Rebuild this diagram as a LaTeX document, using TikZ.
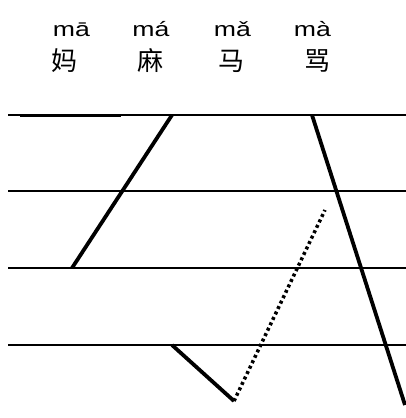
\documentclass[tikz,border=0pt]{standalone}
\usepackage{fontspec}
\setmainfont{Liberation Sans}
\newfontfamily\pinfont[FakeStretch=1.3]{Liberation Sans}
\newfontfamily\cjk{Noto Sans CJK SC}
\begin{document}
\begin{tikzpicture}[x=1pt,y=-1pt,
  staff/.style={line width=1.8pt},
  tone/.style={line width=3.8pt},
  pin/.style={font=\pinfont\fontsize{20.5}{20.5}\selectfont, inner sep=0pt, anchor=base},
  han/.style={font=\cjk\fontsize{26}{26}\selectfont, inner sep=0pt, anchor=base}]
\useasboundingbox (0,0) rectangle (406,418);
% staff lines
\foreach \n/\y in {a/115,b/191,c/268,d/345} {
  \coordinate (L\n) at (8,\y);
  \coordinate (R\n) at (406,\y);
  \draw[staff] (L\n) -- (R\n);
}
% texts
\node[pin] (p1) at (71.5,36) {mā};
\node[pin] (p2) at (151,36) {má};
\node[pin] (p3) at (232.5,36) {mǎ};
\node[pin] (p4) at (312.5,36) {mà};
\node[han] (h1) at (64.5,70) {妈};
\node[han] (h2) at (150,70) {麻};
\node[han] (h3) at (231,70) {马};
\node[han] (h4) at (317,70) {骂};
% tone 1
\coordinate (t1a) at (20,115);
\coordinate (t1b) at (121,115);
\draw[line width=3pt] (t1a) -- (t1b);
% tone 2
\coordinate (t2a) at (72,268);
\coordinate (t2b) at (172,115);
\draw[tone] (t2a) -- (t2b);
% tone 3
\coordinate (t3a) at (172,345);
\coordinate (t3b) at (234,401);
\coordinate (t3c) at (325,210);
\draw[tone] (t3a) -- (t3b);
\draw[line width=3.5pt, dash pattern=on 3pt off 3pt] (t3b) -- (t3c);
% tone 4
\coordinate (t4a) at (312,115);
\coordinate (t4b) at (405,405);
\draw[tone] (t4a) -- (t4b);
\end{tikzpicture}
\end{document}
